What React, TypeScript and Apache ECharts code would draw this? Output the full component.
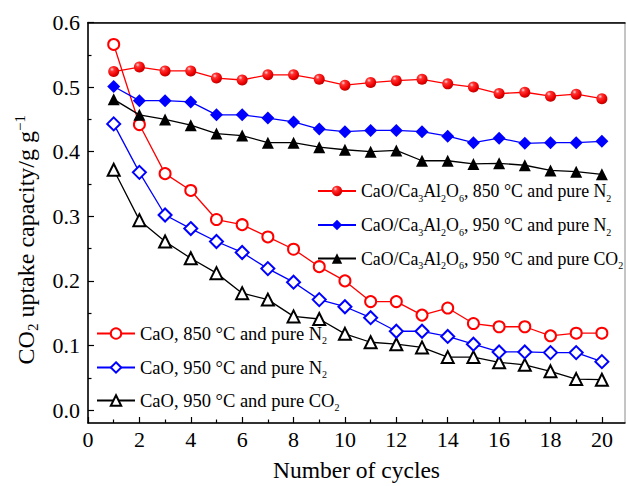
import React, { useEffect, useRef } from 'react';
import * as echarts from 'echarts';

const cycles = [1, 2, 3, 4, 5, 6, 7, 8, 9, 10, 11, 12, 13, 14, 15, 16, 17, 18, 19, 20];

const composite850N2 = [0.524, 0.531, 0.525, 0.525, 0.514, 0.511, 0.519, 0.519, 0.512, 0.503, 0.507, 0.510, 0.512, 0.505, 0.500, 0.490, 0.492, 0.486, 0.489, 0.482];
const composite950N2 = [0.501, 0.479, 0.479, 0.477, 0.457, 0.457, 0.452, 0.446, 0.435, 0.431, 0.433, 0.433, 0.431, 0.424, 0.414, 0.421, 0.413, 0.414, 0.414, 0.416];
const composite950CO2 = [0.481, 0.457, 0.450, 0.441, 0.428, 0.425, 0.414, 0.414, 0.407, 0.403, 0.400, 0.402, 0.386, 0.386, 0.381, 0.382, 0.379, 0.371, 0.369, 0.365];
const cao850N2 = [0.566, 0.442, 0.366, 0.340, 0.295, 0.287, 0.268, 0.249, 0.222, 0.200, 0.168, 0.168, 0.147, 0.158, 0.134, 0.129, 0.129, 0.115, 0.119, 0.119];
const cao950N2 = [0.443, 0.368, 0.302, 0.281, 0.261, 0.244, 0.219, 0.198, 0.171, 0.160, 0.143, 0.122, 0.122, 0.114, 0.102, 0.090, 0.090, 0.089, 0.089, 0.075];
const cao950CO2 = [0.372, 0.294, 0.261, 0.235, 0.212, 0.181, 0.171, 0.145, 0.141, 0.118, 0.105, 0.102, 0.097, 0.082, 0.082, 0.074, 0.070, 0.060, 0.048, 0.047];

const seriesNames = [
  'CaO/Ca3Al2O6, 850 °C and pure N2',
  'CaO/Ca3Al2O6, 950 °C and pure N2',
  'CaO/Ca3Al2O6, 950 °C and pure CO2',
  'CaO, 850 °C and pure N2',
  'CaO, 950 °C and pure N2',
  'CaO, 950 °C and pure CO2',
];

const xMajorTicks = [0, 2, 4, 6, 8, 10, 12, 14, 16, 18, 20];
const xMinorTicks = [1, 3, 5, 7, 9, 11, 13, 15, 17, 19];
const yMajorTicks = [0, 0.1, 0.2, 0.3, 0.4, 0.5, 0.6];
const yMinorTicks = [0.05, 0.15, 0.25, 0.35, 0.45, 0.55];

const xAxisTitle = 'Number of cycles';
const yAxisTitle = '{t|CO}{sub|2}{t| uptake capacity/g g}{sup|−1}';

const FONT = '"Liberation Serif", "Times New Roman", serif';

function toRich(name: string): string {
  const s = '{t|' + name.replace(/([A-Za-z])(\d+)/g, '$1}{sub|$2}{t|') + '}';
  return s.replace(/\{t\|\}/g, '');
}

export default function App() {
  const ref = useRef<HTMLDivElement>(null);

  useEffect(() => {
    if (!ref.current) return;
    const chart = echarts.init(ref.current, undefined, { renderer: 'svg' });

    const sphere = new echarts.graphic.RadialGradient(0.35, 0.3, 0.75, [
      { offset: 0, color: '#ffd6d6' },
      { offset: 0.25, color: '#ff3333' },
      { offset: 0.7, color: '#ee0000' },
      { offset: 1, color: '#b00000' },
    ]);

    const values = [composite850N2, composite950N2, composite950CO2, cao850N2, cao950N2, cao950CO2];
    const colors = ['#ff0000', '#0000ff', '#000000', '#ff0000', '#0000ff', '#000000'];
    const symbols = ['circle', 'diamond', 'triangle', 'emptyCircle', 'emptyDiamond', 'emptyTriangle'];
    const sizes = [11, 13, 12, 11, 13, 12];

    const series = values.map((vals, i) => ({
      type: 'line',
      name: seriesNames[i],
      data: cycles.map((c, k) => [c, vals[k]]),
      symbol: symbols[i],
      symbolSize: sizes[i],
      showAllSymbol: true,
      lineStyle: { color: colors[i], width: 1.3 },
      itemStyle:
        i === 0
          ? { color: sphere, borderWidth: 0 }
          : i < 3
          ? { color: colors[i], borderWidth: 0 }
          : { color: colors[i], borderColor: colors[i], borderWidth: 1.2 },
      z: 10 - i,
    }));

    const rowCenters = [194, 228, 261.5, 336, 370, 403];
    const makeTextStyle = (size: number) => ({
      fontFamily: FONT,
      fontSize: size,
      color: '#000',
      rich: {
        t: { fontFamily: FONT, fontSize: size, color: '#000', lineHeight: 24, verticalAlign: 'middle' },
        sub: { fontFamily: FONT, fontSize: 10, color: '#000', lineHeight: 10, verticalAlign: 'bottom' },
      },
    });
    const legends = seriesNames.map((n, i) => ({
      data: [n],
      orient: 'vertical',
      left: i < 3 ? 317 : 96,
      top: rowCenters[i] - 12,
      padding: 0,
      itemGap: 0,
      itemWidth: 38,
      itemHeight: 13,
      selectedMode: false,
      formatter: (name: string) => toRich(name),
      textStyle: makeTextStyle(i < 3 ? 17.8 : 18.5),
    }));

    const axisLabelStyle = { fontFamily: FONT, fontSize: 22, color: '#000' };

    chart.setOption({
      animation: false,
      backgroundColor: '#ffffff',
      grid: {
        left: 88,
        top: 22.5,
        right: 2,
        bottom: 63,
        containLabel: false,
        outerBoundsMode: 'none',
        show: true,
        borderColor: '#8a8a8a',
        borderWidth: 1,
      },
      legend: legends,
      xAxis: [
        {
          type: 'value',
          min: 0,
          max: 20.9,
          position: 'bottom',
          axisLine: { show: true, onZero: false, lineStyle: { color: '#000', width: 1.5 } },
          axisTick: { show: true, inside: true, length: 6, customValues: xMajorTicks, lineStyle: { color: '#000', width: 1.2 } },
          axisLabel: { ...axisLabelStyle, customValues: xMajorTicks, margin: 5 },
          splitLine: { show: false },
          name: xAxisTitle,
          nameLocation: 'middle',
          nameGap: 35,
          nameTextStyle: { fontFamily: FONT, fontSize: 23.5, color: '#000' },
        },
        {
          type: 'value',
          min: 0,
          max: 20.9,
          position: 'bottom',
          axisLine: { show: false, onZero: false },
          axisTick: { show: true, inside: true, length: 3.5, customValues: xMinorTicks, lineStyle: { color: '#000', width: 1.2 } },
          axisLabel: { show: false },
          splitLine: { show: false },
        },
        {
          type: 'value',
          min: 0,
          max: 20.9,
          position: 'top',
          axisLine: { show: true, onZero: false, lineStyle: { color: '#000', width: 1.5 } },
          axisTick: { show: false },
          axisLabel: { show: false },
          splitLine: { show: false },
        },
      ],
      yAxis: [
        {
          type: 'value',
          min: -0.02,
          max: 0.6,
          position: 'left',
          axisLine: { show: true, onZero: false, lineStyle: { color: '#000', width: 1.5 } },
          axisTick: { show: true, inside: true, length: 6, customValues: yMajorTicks, lineStyle: { color: '#000', width: 1.2 } },
          axisLabel: { ...axisLabelStyle, customValues: yMajorTicks, margin: 8, formatter: (v: number) => v.toFixed(1) },
          splitLine: { show: false },
          name: yAxisTitle,
          nameLocation: 'middle',
          nameRotate: 90,
          nameGap: 48,
          nameTextStyle: {
            fontFamily: FONT,
            fontSize: 24,
            color: '#000',
            padding: [0, 34, 0, 0],
            rich: {
              t: { fontFamily: FONT, fontSize: 24, color: '#000', lineHeight: 28, verticalAlign: 'middle' },
              sub: { fontFamily: FONT, fontSize: 15, color: '#000', lineHeight: 13, verticalAlign: 'bottom' },
              sup: { fontFamily: FONT, fontSize: 15, color: '#000', lineHeight: 14, verticalAlign: 'top' },
            },
          },
        },
        {
          type: 'value',
          min: -0.02,
          max: 0.6,
          position: 'left',
          axisLine: { show: false, onZero: false },
          axisTick: { show: true, inside: true, length: 3.5, customValues: yMinorTicks, lineStyle: { color: '#000', width: 1.2 } },
          axisLabel: { show: false },
          splitLine: { show: false },
        },
      ],
      series,
    });

    return () => chart.dispose();
  }, []);

  return (
    <div
      ref={ref}
      style={{ position: 'fixed', left: 0, top: 0, width: 627, height: 486, background: '#fff' }}
    />
  );
}
